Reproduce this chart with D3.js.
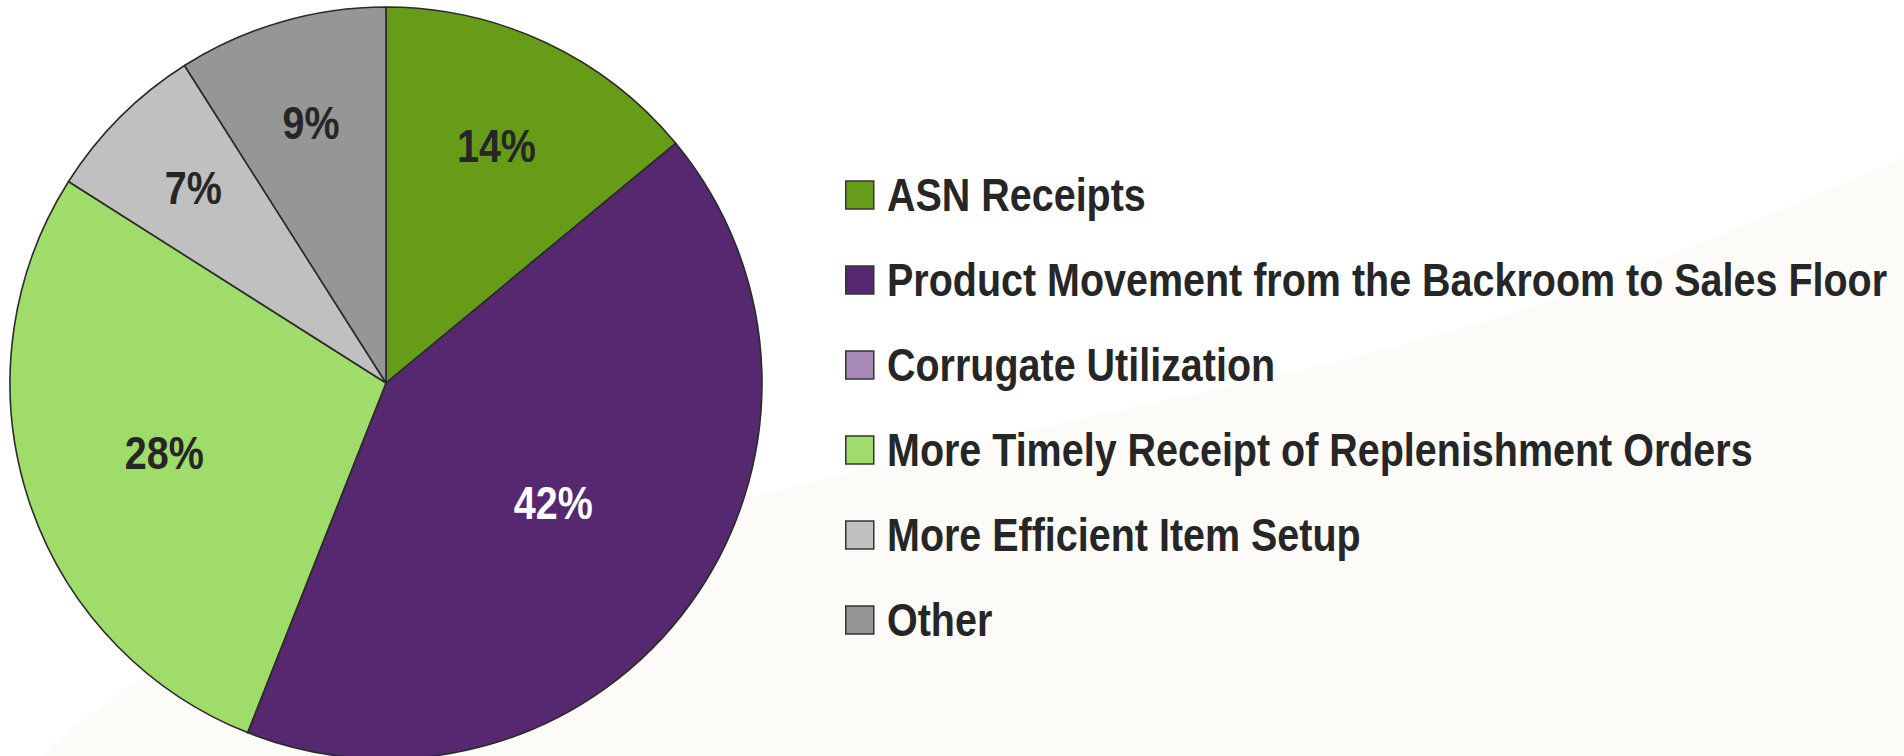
<!DOCTYPE html>
<html>
<head>
<meta charset="utf-8">
<script src="https://cdn.jsdelivr.net/npm/d3@7"></script>
<style>
  html, body { margin: 0; padding: 0; background: #ffffff; }
  #chart { width: 1904px; height: 756px; overflow: hidden; }
  text { font-family: "Liberation Sans", Arial, sans-serif; font-weight: bold; }
</style>
</head>
<body>
<div id="chart"></div>
<script>
// chart data
const categories = [
  "ASN Receipts",
  "Product Movement from the Backroom to Sales Floor",
  "Corrugate Utilization",
  "More Timely Receipt of Replenishment Orders",
  "More Efficient Item Setup",
  "Other"
];
const shares = [14, 42, 0, 28, 7, 9];
const colors = ["#669c17", "#55286f", "#a689b5", "#a0dc6a", "#c0c0c0", "#969696"];

const width = 1904;
const height = 756;
// narrow look: regular sans squeezed horizontally
const squeeze = 0.84;

function drawChart() {
  const svg = d3
    .select("#chart")
    .append("svg")
    .attr("width", width)
    .attr("height", height);

  // soft off-white backdrop sweeping up from the bottom left
  const backdrop = [[30, 770], [150, 675], [820, 480], [1500, 317], [1904, 158], [1930, 148]];
  const edge = d3.line().curve(d3.curveCatmullRom)(backdrop);
  svg.append("path")
    .attr("d", edge + "L1930,770Z")
    .attr("fill", "#fcfbf7");

  const data = categories.map((name, i) => ({ name, value: shares[i], color: colors[i] }));
  const total = d3.sum(shares);

  const radius = 376;
  const g = svg.append("g").attr("transform", "translate(386,383)");

  const pie = d3.pie().sort(null).value(d => d.value);
  const arc = d3.arc().innerRadius(0).outerRadius(radius);
  const arcs = pie(data);

  g.selectAll("path.slice")
    .data(arcs)
    .join("path")
    .attr("class", "slice")
    .attr("d", arc)
    .attr("fill", d => d.data.color)
    .attr("stroke", "#2b2b2b")
    .attr("stroke-width", 1.6)
    .attr("stroke-linejoin", "round");

  // labels sit further out on the thinner slices
  g.selectAll("text.pct")
    .data(arcs.filter(d => d.data.value > 0))
    .join("text")
    .attr("class", "pct")
    .attr("transform", d => {
      const r = radius * (0.76 - 0.5 * d.data.value / total);
      const a = (d.startAngle + d.endAngle) / 2;
      return `translate(${Math.sin(a) * r},${-Math.cos(a) * r}) scale(${squeeze},1)`;
    })
    .attr("text-anchor", "middle")
    .attr("dy", "0.3em")
    .attr("font-size", "47px")
    .attr("fill", d => (d.data.value >= 40 ? "#ffffff" : "#262626"))
    .text(d => `${d.data.value}%`);

  // legend
  const legend = svg.append("g").attr("transform", "translate(845,195)");
  const item = legend.selectAll("g.item")
    .data(data)
    .join("g")
    .attr("class", "item")
    .attr("transform", (d, i) => `translate(0,${i * 85})`);

  item.append("rect")
    .attr("x", 0.75)
    .attr("y", -14)
    .attr("width", 28)
    .attr("height", 28)
    .attr("fill", d => d.color)
    .attr("stroke", "#333333")
    .attr("stroke-width", 1.5);

  item.append("text")
    .attr("transform", `translate(42,16) scale(${squeeze},1)`)
    .attr("font-size", "47px")
    .attr("fill", "#262626")
    .text(d => d.name);
}

drawChart();
</script>
</body>
</html>
